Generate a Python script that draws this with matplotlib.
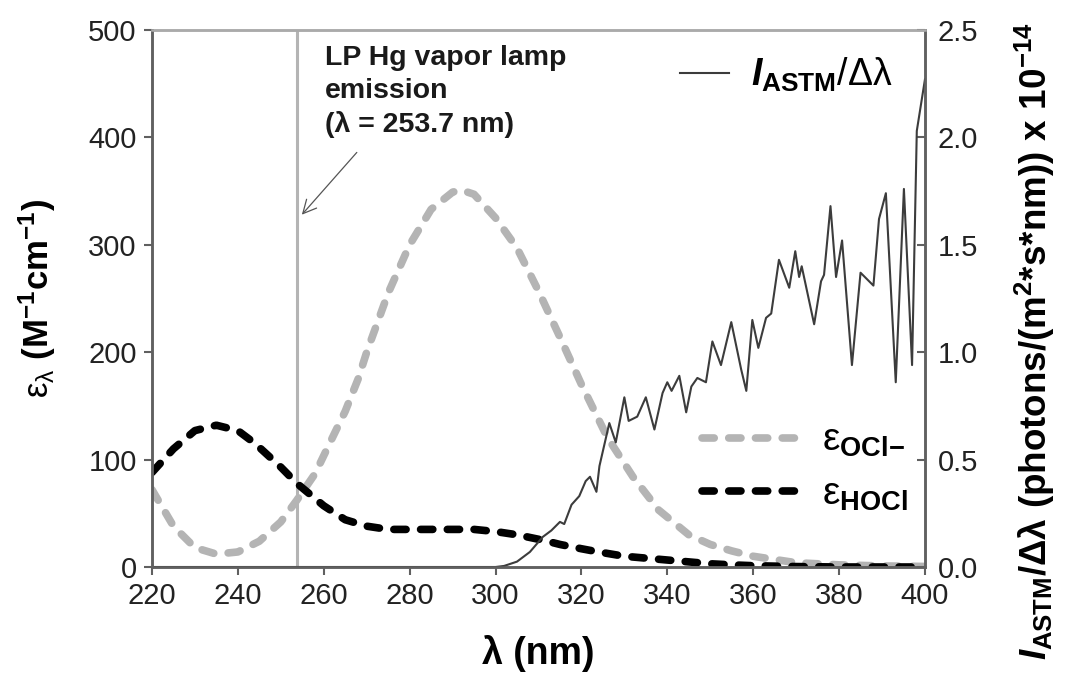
import matplotlib
matplotlib.use("Agg")
import matplotlib.pyplot as plt

plt.rcParams['font.family'] = ['Liberation Sans', 'DejaVu Sans']
plt.rcParams['mathtext.fontset'] = 'custom'
plt.rcParams['mathtext.rm'] = 'Liberation Sans'
plt.rcParams['mathtext.bf'] = 'Liberation Sans:bold'
plt.rcParams['mathtext.it'] = 'Liberation Sans:italic:bold'

# molar absorption coefficients (M^-1 cm^-1)
wl_ocl = [220, 225, 230, 235, 240, 245, 250, 253.7, 258, 261, 265, 268, 270, 275, 280, 285,
          290, 292, 295, 300, 305, 310, 315, 320, 326, 332, 338, 345, 350, 355, 360, 370,
          380, 390, 400]
eps_ocl = [72, 38, 18, 12, 14, 24, 42, 62, 87, 112, 145, 175, 200, 255, 300, 333,
           349, 351, 347, 325, 297, 257, 214, 170, 121, 84, 53, 30, 21, 15, 10, 4,
           2, 1, 0.5]

wl_hocl = [220, 225, 230, 235, 240, 244, 250, 253.7, 260, 265, 270, 275, 280, 290, 295, 300,
           305, 311, 315, 320, 324, 330, 340, 350, 355, 360, 370, 380, 400]
eps_hocl = [88, 110, 127, 132, 127, 115, 93, 78, 57, 44, 38, 35, 35, 35, 35, 33,
            30, 25, 21, 17, 14, 10, 6.5, 3, 2, 1.2, 0.4, 0, 0]

# ASTM solar spectrum, photons/(m2*s*nm) x 1e-14
wl_sun = [220, 300, 302, 305, 308, 311, 313, 315, 316, 317.7, 319.5, 321, 322, 323.5, 324.2,
          326.5, 328, 330, 331, 333, 335, 337, 338.9, 340, 341, 342.8, 344.4, 345.6, 347,
          349, 350.5, 352.5, 354.9, 357.2, 358.4, 359.8, 361.2, 363, 364.2, 366, 368.4,
          369.8, 370.7, 371.3, 374.2, 375.8, 376.5, 378, 379.3, 380.7, 383, 385, 386, 388,
          389.3, 390.9, 393.2, 395.1, 397, 398.1, 400]
i_sun = [0, 0, 0.005, 0.025, 0.07, 0.14, 0.17, 0.21, 0.2, 0.29, 0.33, 0.40, 0.42, 0.35, 0.47,
         0.67, 0.58, 0.79, 0.68, 0.70, 0.79, 0.64, 0.81, 0.86, 0.82, 0.89, 0.72, 0.84, 0.88,
         0.86, 1.05, 0.94, 1.14, 0.92, 0.82, 1.15, 1.02, 1.16, 1.18, 1.43, 1.30,
         1.47, 1.35, 1.40, 1.13, 1.33, 1.36, 1.68, 1.35, 1.52, 0.94, 1.37, 1.35, 1.31,
         1.62, 1.74, 0.86, 1.76, 0.94, 2.03, 2.27]

lamp_wl = 253.7

fig = plt.figure(figsize=(10.65, 6.75), dpi=100)
ax = fig.add_axes([0.1427, 0.16, 0.7258, 0.7956])
ax2 = ax.twinx()

spine_c = '#606060'
dash = (1.6, 1.9)

ax.axvline(lamp_wl, color='#b4b4b4', lw=2.2, zorder=1)
l_ocl, = ax.plot(wl_ocl, eps_ocl, color='#b4b4b4', lw=5.5, dashes=dash,
                 dash_capstyle='round', label=r'$\mathrm{ε}_{\mathbf{OCl{-}}}$')
l_hocl, = ax.plot(wl_hocl, eps_hocl, color='black', lw=5.5, dashes=dash,
                  dash_capstyle='round', label=r'$\mathrm{ε}_{\mathbf{HOCl}}$')
l_sun, = ax2.plot(wl_sun, i_sun, color='#3c3c3c', lw=1.5,
                  label=r'$\mathit{I}_{\mathbf{ASTM}}\mathrm{/Δλ}$')

ax.set_xlim(220, 400)
ax.set_ylim(0, 500)
ax2.set_ylim(0, 2.5)
ax.set_xticks(range(220, 401, 20))
ax.set_yticks(range(0, 501, 100))
ax2.set_yticks([0, 0.5, 1.0, 1.5, 2.0, 2.5])
ax2.set_yticklabels(['0.0', '0.5', '1.0', '1.5', '2.0', '2.5'])

for a in (ax, ax2):
    for s in a.spines.values():
        s.set_color(spine_c)
        s.set_linewidth(1.8)
    a.spines['top'].set_color('#aaaaaa')
ax.tick_params(axis='both', direction='out', length=6, width=1.5, color=spine_c,
               labelsize=21, labelcolor='#222222', pad=5)
ax2.tick_params(axis='y', direction='in', length=6, width=1.5, color=spine_c,
                labelsize=21, labelcolor='#222222', pad=9)

ax.set_xlabel('λ (nm)', fontsize=27, fontweight='bold', labelpad=18)
ax.set_ylabel(r'$\mathrm{ε_λ}$ $\mathbf{(M^{-1}cm^{-1})}$', fontsize=25)
ax.yaxis.set_label_coords(-0.122, 0.5)
ax2.set_ylabel(r'$\mathit{I}_{\mathbf{ASTM}}\mathbf{/Δλ\ (photons/(m^2{*}s{*}nm))\ x\ 10^{-14}}$',
               fontsize=26.5)
ax2.yaxis.set_label_coords(1.114, 0.42)

ax.text(260.2, 486, 'LP Hg vapor lamp\nemission\n(λ = 253.7 nm)', fontsize=20.5,
        fontweight='bold', va='top', ha='left', linespacing=1.33, color='#1a1a1a')
ax.annotate('', xy=(254.9, 328), xytext=(267.7, 386),
            arrowprops=dict(arrowstyle='->', color='#555555', lw=0.9,
                            shrinkA=0, shrinkB=0, mutation_scale=24))

leg1 = ax.legend(handles=[l_ocl, l_hocl], loc='center left', bbox_to_anchor=(0.711, 0.184),
                 frameon=False, fontsize=28, handlelength=2.7, handletextpad=0.4,
                 labelspacing=0.45, borderpad=0, borderaxespad=0)
leg2 = ax2.legend(handles=[l_sun], loc='center left', bbox_to_anchor=(0.683, 0.916),
                  frameon=False, fontsize=27, handlelength=1.3, handletextpad=0.6,
                  borderpad=0, borderaxespad=0)

fig.savefig('out.png', dpi=100)
